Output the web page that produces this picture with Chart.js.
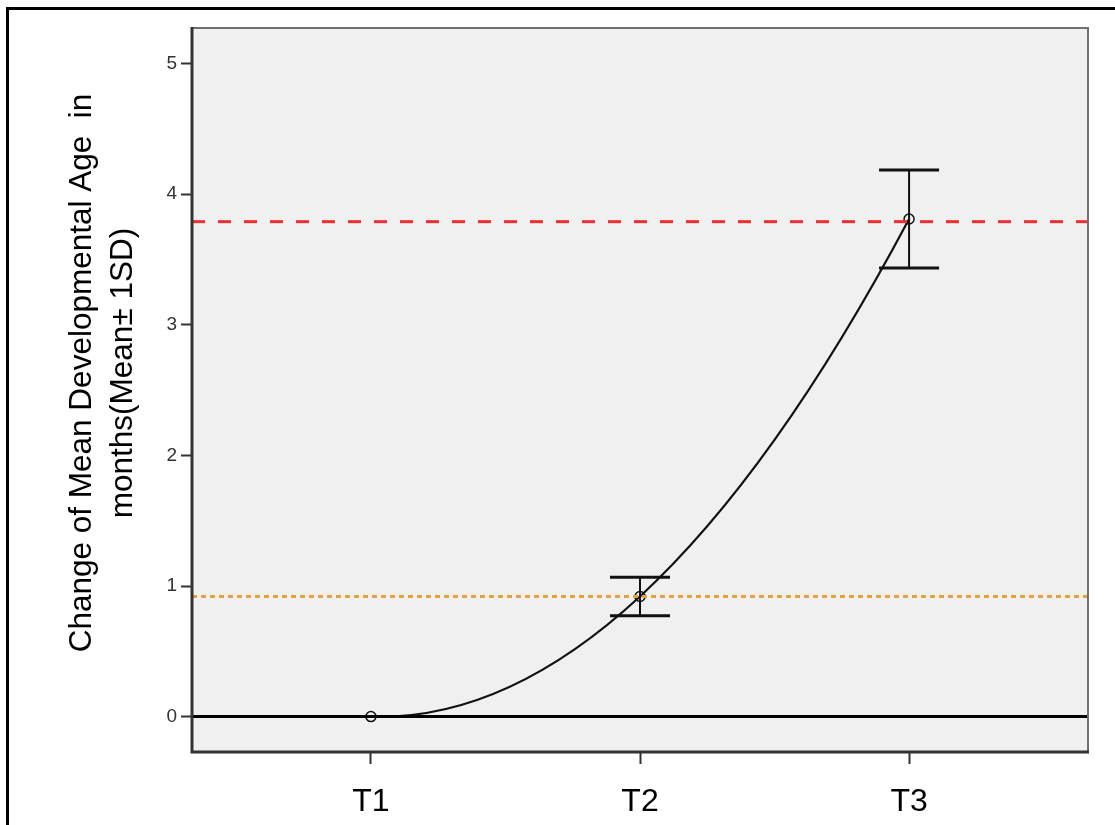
<!DOCTYPE html>
<html>
<head>
<meta charset="utf-8">
<script src="https://cdn.jsdelivr.net/npm/chart.js@4"></script>
<style>
  html, body { margin: 0; padding: 0; background: #fff; }
  #wrap { width: 1115px; height: 825px; }
</style>
</head>
<body>
<div id="wrap"><canvas id="devChart" width="1115" height="825"></canvas></div>
<script>
const timepoints = ["T1", "T2", "T3"];
const meanChange = [0, 0.92, 3.81];
const sdChange = [0, 0.148, 0.375];
const redLine = 3.79;     // dashed red reference
const orangeLine = 0.92;  // dotted orange reference
const zeroLine = 0;
const yTicks = [0, 1, 2, 3, 4, 5];

const X_MIN = -0.665, X_MAX = 2.665;
const Y_MIN = -0.271, Y_MAX = 5.273;
const FONT = "'Liberation Sans', Arial, sans-serif";

const hline = (v) => [{ x: X_MIN, y: v }, { x: X_MAX, y: v }];

// page frame, plot background and plot border
const frame = {
  id: "frame",
  beforeDraw(chart) {
    const { ctx, chartArea: a } = chart;
    ctx.save();
    ctx.fillStyle = "#fff";
    ctx.fillRect(0, 0, chart.width, chart.height);
    ctx.fillStyle = "#f0f0f0";
    ctx.fillRect(a.left, a.top, a.right - a.left, a.bottom - a.top);
    ctx.strokeStyle = "#000";
    ctx.lineWidth = 3;
    ctx.beginPath();
    ctx.moveTo(7.5, chart.height);
    ctx.lineTo(7.5, 8.5);
    ctx.lineTo(chart.width, 8.5);
    ctx.stroke();
    ctx.restore();
  },
  afterDatasetsDraw(chart) {
    const { ctx, chartArea: a } = chart;
    ctx.save();
    ctx.strokeStyle = "#707070";
    ctx.lineWidth = 2;
    ctx.beginPath();
    ctx.moveTo(a.left, a.top);
    ctx.lineTo(a.right, a.top);
    ctx.lineTo(a.right, a.bottom);
    ctx.stroke();
    ctx.strokeStyle = "#333";
    ctx.lineWidth = 3;
    ctx.beginPath();
    ctx.moveTo(a.left, a.top - 1);
    ctx.lineTo(a.left, a.bottom);
    ctx.lineTo(a.right + 1, a.bottom);
    ctx.stroke();
    ctx.restore();
  },
};

// mean +/- 1SD bars
const errorBars = {
  id: "errorBars",
  afterDatasetsDraw(chart) {
    const { ctx, scales: { x, y } } = chart;
    ctx.save();
    ctx.strokeStyle = "#111";
    meanChange.forEach((m, i) => {
      if (!sdChange[i]) return;
      const px = x.getPixelForValue(i);
      const top = y.getPixelForValue(m + sdChange[i]);
      const bot = y.getPixelForValue(m - sdChange[i]);
      ctx.lineWidth = 2;
      ctx.beginPath();
      ctx.moveTo(px, top);
      ctx.lineTo(px, bot);
      ctx.stroke();
      ctx.lineWidth = 3;
      ctx.beginPath();
      ctx.moveTo(px - 30, top);
      ctx.lineTo(px + 30, top);
      ctx.moveTo(px - 30, bot);
      ctx.lineTo(px + 30, bot);
      ctx.stroke();
    });
    ctx.restore();
  },
};

// the fitted curve is a parabola through the three means: set bezier
// control points from its tangents instead of the default spline
const parabolaCurve = {
  id: "parabolaCurve",
  beforeDatasetDraw(chart, args) {
    if (args.index !== 3) return;
    const line = args.meta.dataset;
    const p = args.meta.data;
    line.updateControlPoints(chart.chartArea, "x");
    const h = p[1].x - p[0].x;
    const d = [
      (-3 * p[0].y + 4 * p[1].y - p[2].y) / 2,
      (p[2].y - p[0].y) / 2,
      (p[0].y - 4 * p[1].y + 3 * p[2].y) / 2,
    ];
    p.forEach((pt, i) => {
      pt.cp1x = pt.x - h / 3;
      pt.cp1y = pt.y - d[i] / 3;
      pt.cp2x = pt.x + h / 3;
      pt.cp2y = pt.y + d[i] / 3;
    });
    line._path = undefined;
  },
};

// two-line y axis title
const yTitle = {
  id: "yTitle",
  afterDraw(chart) {
    const { ctx } = chart;
    ctx.save();
    ctx.fillStyle = "#000";
    ctx.font = "31.5px " + FONT;
    ctx.textAlign = "center";
    ctx.textBaseline = "alphabetic";
    [["Change of Mean Developmental Age  in", 91], ["months(Mean\u00b1 1SD)", 132]].forEach(([t, bx]) => {
      ctx.save();
      ctx.translate(bx, 373);
      ctx.rotate(-Math.PI / 2);
      ctx.fillText(t, 0, 0);
      ctx.restore();
    });
    ctx.restore();
  },
};

new Chart(document.getElementById("devChart"), {
  type: "line",
  data: {
    datasets: [
      {
        data: hline(zeroLine),
        borderColor: "#000",
        borderWidth: 3,
        pointRadius: 0,
      },
      {
        data: hline(orangeLine),
        borderColor: "#e3a23a",
        borderWidth: 3,
        borderDash: [5, 4],
        pointRadius: 0,
      },
      {
        data: hline(redLine),
        borderColor: "#ee3030",
        borderWidth: 3,
        borderDash: [13, 13],
        pointRadius: 0,
      },
      {
        data: meanChange.map((v, i) => ({ x: i, y: v })),
        borderColor: "#111",
        borderWidth: 2.2,
        tension: 0.4,
        pointRadius: 5,
        pointBorderWidth: 1.5,
        pointBorderColor: "#111",
        pointBackgroundColor: "rgba(0,0,0,0)",
      },
    ],
  },
  options: {
    responsive: false,
    animation: false,
    devicePixelRatio: 1,
    layout: { padding: { top: 28, right: 27, left: 0, bottom: 0 } },
    plugins: { legend: { display: false }, tooltip: { enabled: false } },
    scales: {
      x: {
        type: "linear",
        min: X_MIN,
        max: X_MAX,
        afterBuildTicks: (s) => { s.ticks = timepoints.map((t, i) => ({ value: i })); },
        afterFit: (s) => { s.height = 73; },
        ticks: {
          callback: (v) => timepoints[v],
          color: "#000",
          font: { family: FONT, size: 32 },
          padding: 19,
          maxRotation: 0,
          autoSkip: false,
        },
        grid: { drawOnChartArea: false, tickLength: 12, tickColor: "#333", tickWidth: 2 },
        border: { display: false },
      },
      y: {
        min: Y_MIN,
        max: Y_MAX,
        afterBuildTicks: (s) => { s.ticks = yTicks.map((v) => ({ value: v })); },
        afterFit: (s) => { s.width = 192; },
        ticks: {
          color: "#333",
          font: { family: FONT, size: 19 },
          padding: 4,
        },
        grid: { drawOnChartArea: false, tickLength: 11, tickColor: "#333", tickWidth: 2 },
        border: { display: false },
      },
    },
  },
  plugins: [frame, errorBars, parabolaCurve, yTitle],
});
</script>
</body>
</html>
